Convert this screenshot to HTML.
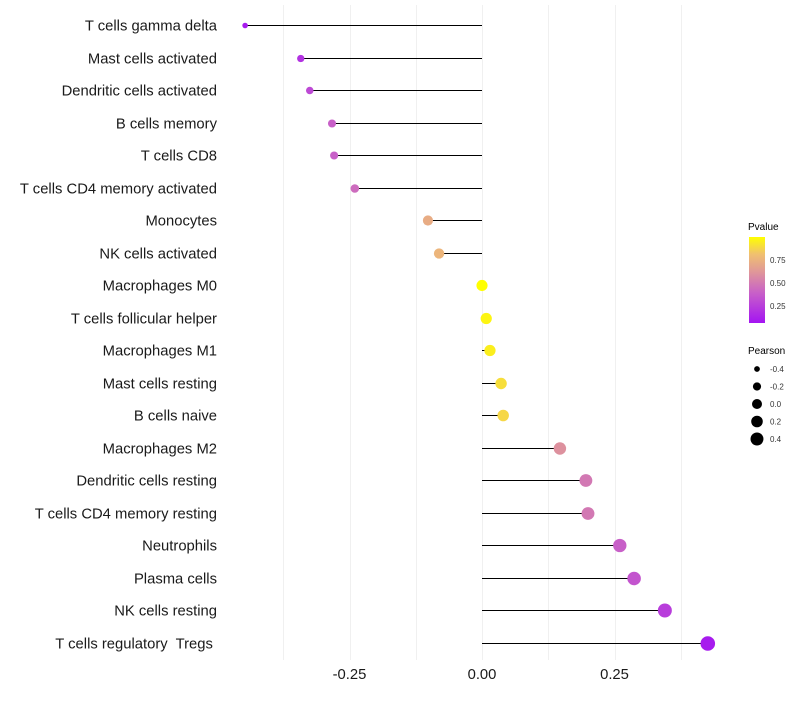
<!DOCTYPE html>
<html><head><meta charset="utf-8"><style>
body{margin:0;background:#fff;font-family:"Liberation Sans",sans-serif}
text{white-space:pre}
</style></head><body>
<svg id="chart" width="800" height="700" xmlns="http://www.w3.org/2000/svg">
<defs><linearGradient id="pg" x1="0" y1="1" x2="0" y2="0">
<stop offset="0" stop-color="#a414f2"/><stop offset="0.35" stop-color="#c860c8"/><stop offset="0.6" stop-color="#e09898"/><stop offset="0.8" stop-color="#f0c070"/><stop offset="1" stop-color="#ffff00"/>
</linearGradient></defs>
<g id="grid"></g><g id="marks"></g><g id="labels"></g><g id="xticks"></g>
<g>
<text x="748" y="230" font-size="10">Pvalue</text>
<rect x="749" y="237" width="16" height="86" fill="url(#pg)"/>
<text x="770" y="263" font-size="8" fill="#333">0.75</text>
<text x="770" y="286" font-size="8" fill="#333">0.50</text>
<text x="770" y="309" font-size="8" fill="#333">0.25</text>
</g>
<g id="sizeLegend">
<text x="748" y="354" font-size="10">Pearson</text>
</g>
</svg>
<script>
const categories=["T cells gamma delta","Mast cells activated","Dendritic cells activated","B cells memory","T cells CD8","T cells CD4 memory activated","Monocytes","NK cells activated","Macrophages M0","T cells follicular helper","Macrophages M1","Mast cells resting","B cells naive","Macrophages M2","Dendritic cells resting","T cells CD4 memory resting","Neutrophils","Plasma cells","NK cells resting","T cells regulatory  Tregs "];
const pearson=[-0.447,-0.342,-0.325,-0.283,-0.279,-0.240,-0.102,-0.081,0.0,0.008,0.015,0.036,0.040,0.147,0.196,0.200,0.260,0.287,0.345,0.426];
const pvalue=[0.1,0.2,0.3,0.4,0.4,0.45,0.72,0.76,1.0,0.97,0.95,0.9,0.88,0.6,0.5,0.5,0.4,0.35,0.25,0.1];
const xTicks=[-0.25,0,0.25];
const xTickLabels=["-0.25","0.00","0.25"];
const sizeLegend=[-0.4,-0.2,0.0,0.2,0.4];
const NS="http://www.w3.org/2000/svg";
const xs=v=>482+v*530;
const ys=i=>Math.round(25+i*32.5)+0.5;
const rs=v=>Math.sqrt(Math.max(4,31+52*v));
function col(p){
  const stops=[[0.07,[164,20,242]],[0.4,[200,96,200]],[0.63,[224,152,152]],[0.81,[240,192,112]],[1,[255,255,0]]];
  p=Math.max(0.07,Math.min(1,p));
  for(let k=1;k<stops.length;k++){if(p<=stops[k][0]){const a=stops[k-1],b=stops[k],t=(p-a[0])/(b[0]-a[0]);
    return "rgb("+a[1].map((c,j)=>Math.round(c+(b[1][j]-c)*t)).join(",")+")";}}
  return "rgb(255,255,0)";
}
function mk(tag,at,parent){const e=document.createElementNS(NS,tag);for(const k in at)e.setAttribute(k,at[k]);document.getElementById(parent).appendChild(e);return e;}
[-0.375,-0.25,-0.125,0,0.125,0.25,0.375].forEach(v=>{
  const g=mk("line",{x1:Math.round(xs(v))+0.5,x2:Math.round(xs(v))+0.5,y1:5,y2:660,stroke:"#f0f0f0","stroke-width":1},"grid");
  
  
});
categories.forEach((c,i)=>{
  const y=ys(i);
  const l=mk("line",{x1:xs(0),x2:xs(pearson[i]),y1:y,y2:y,stroke:"#000","stroke-width":1},"marks");
  
  
  const d=mk("circle",{cx:xs(pearson[i]),cy:y,r:rs(pearson[i]),fill:col(pvalue[i])},"marks");
  
  
  const t=mk("text",{x:217,y:y+5,"text-anchor":"end","font-size":"14.8",fill:"#1a1a1a"},"labels");
  t.textContent=c;
  
  
});
xTicks.forEach((v,i)=>{
  const t=mk("text",{x:xs(v),y:679,"text-anchor":"middle","font-size":"14.8",fill:"#1a1a1a"},"xticks");
  t.textContent=xTickLabels[i];
  
  
});
sizeLegend.forEach((v,i)=>{
  const y=369+i*17.5;
  const c=mk("circle",{cx:757,cy:y,r:rs(v)*0.9,fill:"#000"},"sizeLegend");
  
  
  const t=mk("text",{x:770,y:y+3,"font-size":"8",fill:"#333"},"sizeLegend");
  t.textContent=v.toFixed(1);
  
  
});
</script>
</body></html>
